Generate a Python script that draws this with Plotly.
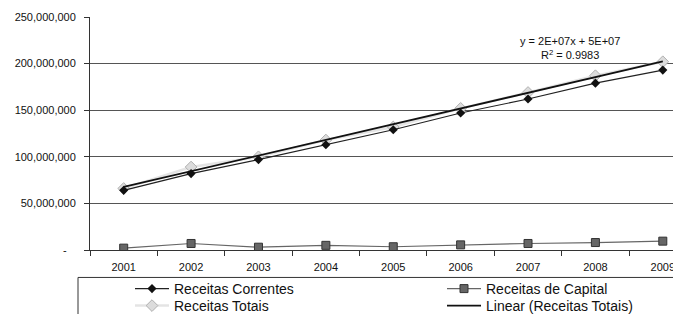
import numpy as np
import plotly.graph_objects as go

years = ["2001", "2002", "2003", "2004", "2005", "2006", "2007", "2008", "2009"]
receitas_correntes = [64e6, 82e6, 97e6, 113e6, 129e6, 147e6, 162e6, 179e6, 193e6]
receitas_capital = [2e6, 7e6, 3e6, 5e6, 3.5e6, 5.5e6, 7e6, 8e6, 9.5e6]
receitas_totais = [66e6, 89e6, 100e6, 118e6, 132e6, 152e6, 169e6, 187e6, 202e6]
y_tickvals = [0, 50e6, 100e6, 150e6, 200e6, 250e6]
y_ticktext = ["-\u00a0\u00a0\u00a0", "50,000,000", "100,000,000", "150,000,000", "200,000,000", "250,000,000"]
equation_text = "y = 2E+07x + 5E+07<br>R<sup>2</sup> = 0.9983"

# linear trendline of Receitas Totais (fitted, as Excel does)
xi = np.arange(1, len(years) + 1)
slope, intercept = np.polyfit(xi, receitas_totais, 1)
trend = slope * xi + intercept

FONT = "Liberation Sans, Arial, sans-serif"
# the page body adds an 8px offset, so the figure is 8px smaller than the window
W, H = 673, 306

fig = go.Figure()
fig.add_trace(go.Scatter(
    x=years, y=receitas_capital, name="Receitas de Capital", mode="lines+markers",
    line=dict(color="#666666", width=1.2),
    marker=dict(symbol="square", size=8, color="#666666", line=dict(color="#333333", width=1)),
    legend="legend2"))
fig.add_trace(go.Scatter(
    x=years, y=receitas_totais, name="Receitas Totais", mode="lines+markers",
    line=dict(color="#e4e4e4", width=2.5),
    marker=dict(symbol="diamond", size=9, color="#dcdcdc", line=dict(color="#b0b0b0", width=1)),
    legend="legend3"))
fig.add_trace(go.Scatter(
    x=years, y=receitas_correntes, name="Receitas Correntes", mode="lines+markers",
    line=dict(color="#222222", width=1.2),
    marker=dict(symbol="diamond", size=7, color="#111111"),
    legend="legend"))
fig.add_trace(go.Scatter(
    x=years, y=trend, name="Linear (Receitas Totais)", mode="lines",
    line=dict(color="#111111", width=1.8),
    legend="legend4"))

fig.add_annotation(
    x=0.812, y=217e6, xref="paper", yref="y", xanchor="center", yanchor="middle",
    text=equation_text,
    showarrow=False, font=dict(family=FONT, size=11, color="#111111"), align="center")

PL, PT, PB = 82, 9, 242.5  # plot area edges in figure pixels
PH = PB - PT
PW = W - PL

# legend frame (extends past the right and bottom edges like the reference)
fig.add_shape(type="rect", xref="paper", yref="paper",
              x0=(70 - PL) / PW, x1=1.1, y0=(PB - 340) / PH, y1=(PB - 270) / PH,
              line=dict(color="#333333", width=1), fillcolor="rgba(0,0,0,0)", layer="above")

leg_common = dict(
    orientation="h", xref="container", yref="container", xanchor="left", yanchor="middle",
    borderwidth=0, bgcolor="rgba(0,0,0,0)",
    font=dict(family=FONT, size=14, color="#111111"), itemwidth=34)

col1_x, col2_x = 122, 434
row1_y, row2_y = 281, 298

fig.update_layout(
    template="none",
    width=W, height=H,
    margin=dict(l=PL, r=0, t=PT, b=H - PB, pad=0),
    paper_bgcolor="#ffffff", plot_bgcolor="#ffffff",
    font=dict(family=FONT, size=11, color="#111111"),
    showlegend=True,
    legend=dict(x=col1_x / W, y=1 - row1_y / H, **leg_common),
    legend2=dict(x=col2_x / W, y=1 - row1_y / H, **leg_common),
    legend3=dict(x=col1_x / W, y=1 - row2_y / H, **leg_common),
    legend4=dict(x=col2_x / W, y=1 - row2_y / H, **leg_common),
    xaxis=dict(
        type="category", range=[-0.5, 8.27], showgrid=False, automargin=False,
        showline=True, linecolor="#333333", linewidth=1,
        ticks="outside", tickson="boundaries", ticklen=5, tickcolor="#333333",
        ticklabelstandoff=7,
        tickfont=dict(family=FONT, size=11, color="#111111"), fixedrange=True),
    yaxis=dict(
        range=[0, 250e6], tickvals=y_tickvals, ticktext=y_ticktext, automargin=False,
        showgrid=True, gridcolor="#555555", gridwidth=1,
        showline=True, linecolor="#333333", linewidth=1,
        ticks="outside", ticklen=5, tickcolor="#333333", zeroline=False,
        ticklabelstandoff=6,
        tickfont=dict(family=FONT, size=11, color="#111111"), fixedrange=True),
)

fig.write_html("out.html")
